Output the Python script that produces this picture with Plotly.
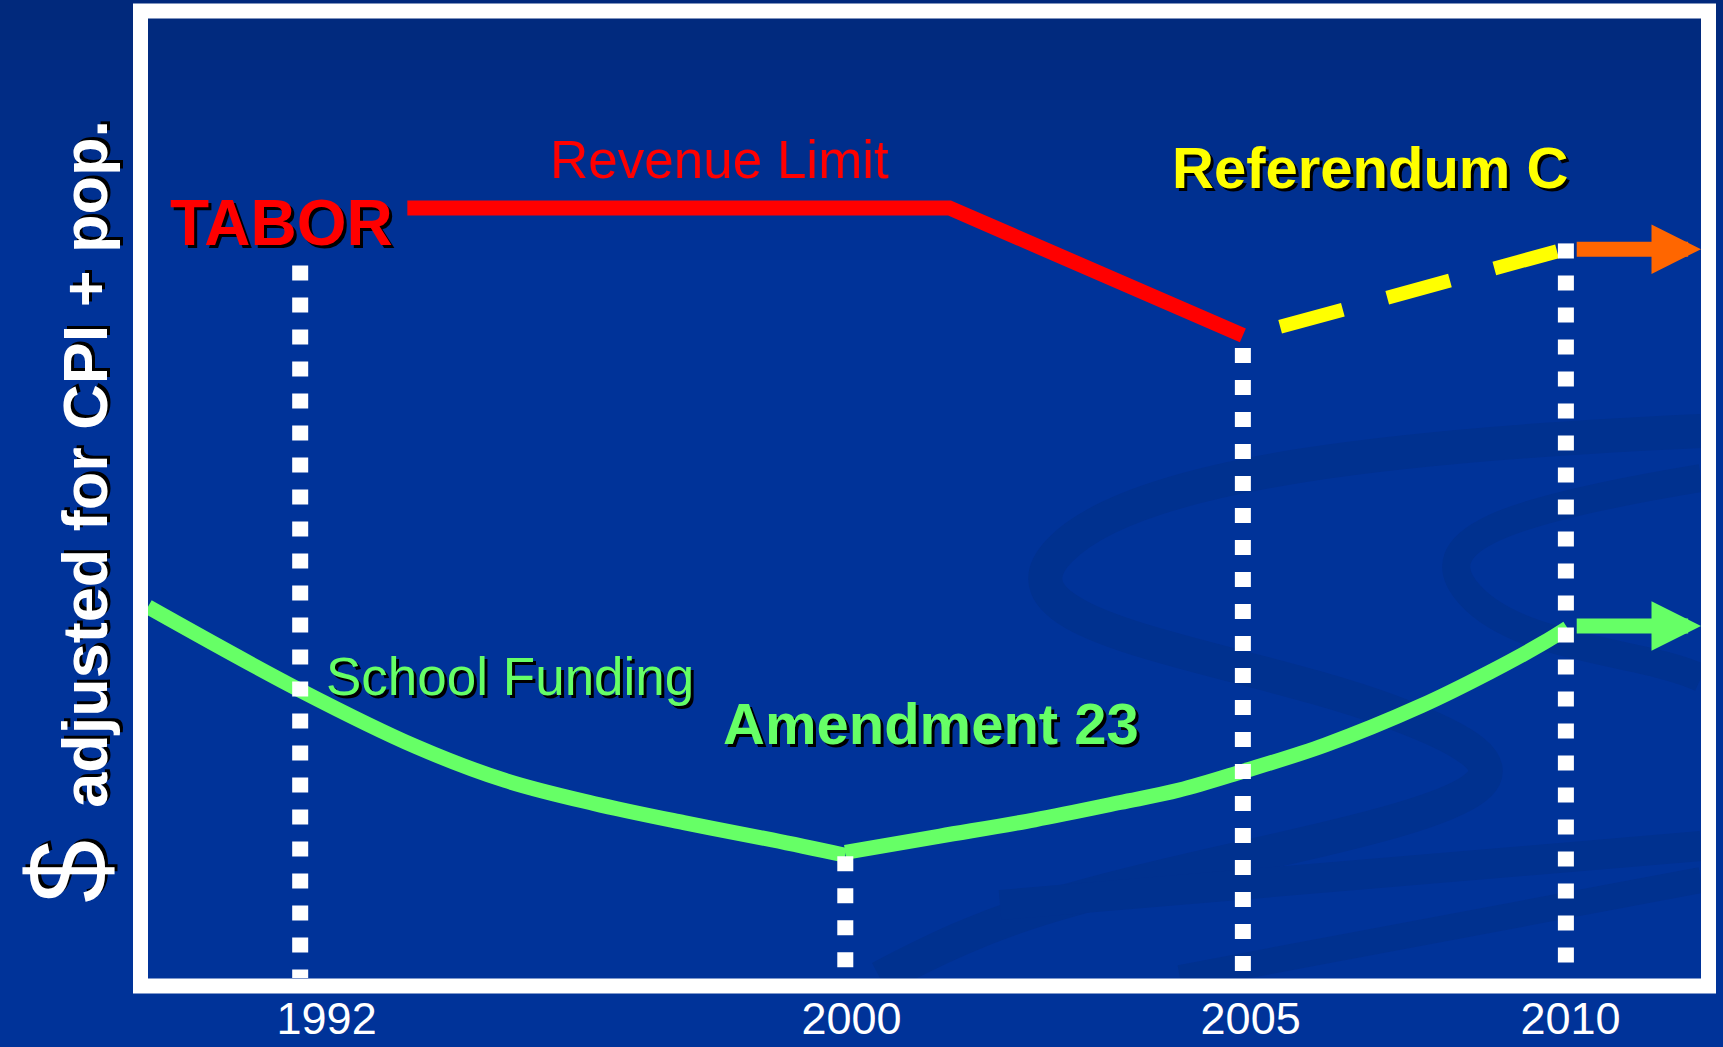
import plotly.graph_objects as go

# Schematic timeline: x runs 0-100 across the framed area, y is a relative $ level 0-100
years = ["1992", "2000", "2005", "2010"]
year_x = [9.8, 44.9, 70.5, 91.3]          # dotted event markers
year_label_x = [11.5, 45.3, 71.0, 91.6]   # where the year labels sit
year_top = [74.3, 12.7, 65.7, 76.6]       # height each dotted marker reaches

# TABOR revenue limit
revenue_x = [16.7, 51.6, 70.5]
revenue_y = [80.3, 80.3, 67.0]

# Referendum C (dashed) and its continuation arrow
refc_x = [72.9, 90.8]
refc_y = [67.9, 75.8]
refc_arrow_x = [91.9, 100]
refc_arrow_y = 76.0

# School funding (Amendment 23) - before and after 2000
school_x_before = [0, 9.8, 17.3, 23.0, 28.7, 34.5, 40.2, 44.9]
school_y_before = [38.7, 30.0, 24.1, 20.6, 18.2, 16.2, 14.4, 12.8]
school_x_after = [44.9, 51.0, 57.1, 62.6, 66.4, 70.4, 75.8, 82.0, 86.4, 89.8, 91.4]
school_y_after = [13.1, 14.8, 16.5, 18.3, 19.6, 21.5, 24.3, 28.4, 31.9, 34.9, 36.5]
school_arrow_x = [91.9, 100]
school_arrow_y = 36.7

# Text labels
label_text = ["TABOR", "Revenue Limit", "Referendum C", "School Funding", "Amendment 23"]
label_x = [8.6, 36.8, 78.7, 23.3, 50.4]
label_y = [78.7, 85.3, 84.5, 31.4, 26.5]
label_color = ["#FF0000", "#FF0000", "#FFFF00", "#66FF66", "#66FF66"]
label_size = [64, 53, 58, 53, 58]
label_bold = [True, False, True, False, True]
label_shadow = [True, False, True, True, True]

FONT = "Liberation Sans, Arial, sans-serif"
BLUE = "#003399"
SHADOW = "3px 3px 0px #000000"

fig = go.Figure()

fig.add_trace(go.Scatter(x=school_x_before, y=school_y_before, mode="lines",
                         line=dict(color="#66FF66", width=15, shape="spline", smoothing=1.0),
                         hoverinfo="skip"))
fig.add_trace(go.Scatter(x=school_x_after, y=school_y_after, mode="lines",
                         line=dict(color="#66FF66", width=15, shape="spline", smoothing=1.0),
                         hoverinfo="skip"))
fig.add_trace(go.Scatter(x=revenue_x, y=revenue_y, mode="lines",
                         line=dict(color="#FF0000", width=15),
                         hoverinfo="skip"))
fig.add_trace(go.Scatter(x=refc_x, y=refc_y, mode="lines",
                         line=dict(color="#FFFF00", width=14, dash="65px,46px"),
                         hoverinfo="skip"))

# dotted event markers
for xv, top in zip(year_x, year_top):
    fig.add_trace(go.Scatter(x=[xv, xv], y=[top, 0], mode="lines",
                             line=dict(color="white", width=16, dash="15px,17px"),
                             hoverinfo="skip"))

# continuation arrows
for ax_, y_, col in [(refc_arrow_x, refc_arrow_y, "#FF6600"),
                     (school_arrow_x, school_arrow_y, "#66FF66")]:
    fig.add_annotation(x=ax_[1], y=y_, ax=ax_[0], ay=y_, xref="x", yref="y",
                       axref="x", ayref="y", text="", showarrow=True,
                       arrowhead=2, arrowsize=0.66, arrowwidth=15, arrowcolor=col,
                       standoff=0)

for t, x, y, c, s, b, sh in zip(label_text, label_x, label_y, label_color,
                                label_size, label_bold, label_shadow):
    fig.add_annotation(x=x, y=y, xref="x", yref="y", text=t, showarrow=False,
                       xanchor="center", yanchor="middle",
                       font=dict(family=FONT, size=s, color=c,
                                 weight="bold" if b else "normal",
                                 shadow=SHADOW if sh else "none"))

# vertical axis title
fig.add_annotation(x=-0.0515, y=0.486, xref="paper", yref="paper", textangle=-90,
                   showarrow=False, xanchor="center", yanchor="middle",
                   text='<span style="font-size:114px">$ </span><b>adjusted for CPI + pop.</b>',
                   font=dict(family=FONT, size=63, color="white", shadow=SHADOW))

# background decoration (page pixels -> paper coords)
W, H = 1553, 959


def pp(xp, yp):
    return "%.4f,%.4f" % ((xp - 148) / W, (978 - yp) / H)


shapes = []
# darker top of the slide background
top_c = (1, 41, 124)
for i in range(14):
    f = i / 13
    c = tuple(round(top_c[k] + (v - top_c[k]) * f) for k, v in enumerate((0, 51, 153)))
    y0, y1 = i * 20, i * 20 + 21
    shapes.append(dict(type="rect", xref="paper", yref="paper", layer="below",
                       x0=-148 / W, x1=(1723 - 148) / W,
                       y0=(978 - y1) / H, y1=(978 - y0) / H,
                       line=dict(width=0), fillcolor="rgb(%d,%d,%d)" % c))

swirl = "#00318F"
paths = [
    ("M" + pp(1701, 431) + " C" + pp(1415, 444) + " " + pp(1138, 470) + " " + pp(1060, 550)
     + " S" + pp(1230, 652) + " " + pp(1392, 712) + " S" + pp(1500, 800) + " " + pp(1277, 850)
     + " S" + pp(1000, 915) + " " + pp(880, 978), 34),
    ("M" + pp(1701, 478) + " C" + pp(1507, 510) + " " + pp(1420, 540) + " " + pp(1470, 595)
     + " S" + pp(1640, 650) + " " + pp(1701, 678), 28),
    ("M" + pp(1000, 905) + " L" + pp(1701, 846), 30),
    ("M" + pp(1180, 978) + " L" + pp(1701, 880), 26),
]
for d, w in paths:
    shapes.append(dict(type="path", xref="paper", yref="paper", layer="below", path=d,
                       line=dict(color=swirl, width=w), fillcolor="rgba(0,0,0,0)"))

# white frame around the chart area
shapes.append(dict(type="rect", xref="paper", yref="paper", layer="above",
                   x0=-7.5 / W, x1=1 + 7.5 / W, y0=-8 / H, y1=1 + 8 / H,
                   line=dict(color="white", width=15), fillcolor="rgba(0,0,0,0)"))

fig.update_layout(
    width=1723, height=1047,
    margin=dict(l=148, r=22, t=19, b=69, autoexpand=False),
    paper_bgcolor=BLUE,
    plot_bgcolor="rgba(0,0,0,0)",
    showlegend=False,
    shapes=shapes,
    font=dict(family=FONT, color="white"),
    xaxis=dict(range=[0, 100], showgrid=False, zeroline=False, showline=False,
               tickvals=year_label_x, ticktext=years, ticks="", automargin=False,
               tickfont=dict(family=FONT, size=45, color="white"),
               ticklabelstandoff=10, fixedrange=True),
    yaxis=dict(range=[0, 100], showgrid=False, zeroline=False, showline=False,
               showticklabels=False, automargin=False, fixedrange=True),
)

fig.write_html("out.html", config=dict(displayModeBar=False),
               post_script="document.body.style.margin='0';")
